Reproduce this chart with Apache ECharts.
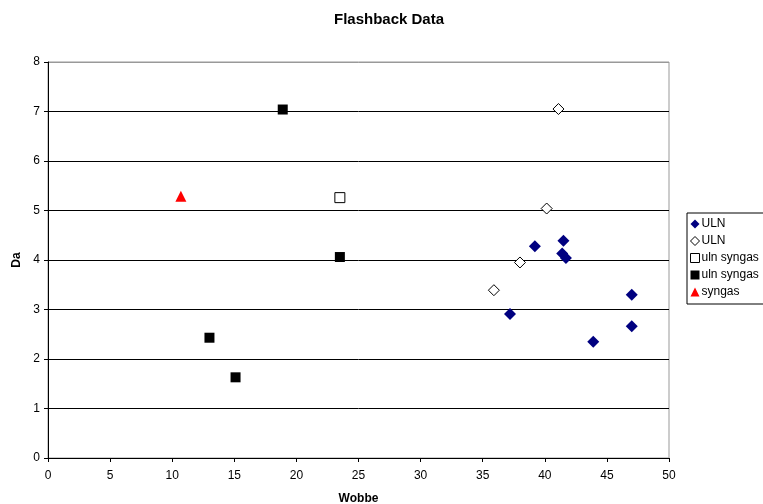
<!DOCTYPE html>
<html>
<head>
<meta charset="utf-8">
<script src="https://cdn.jsdelivr.net/npm/echarts@6/dist/echarts.min.js"></script>
<style>
html,body{margin:0;padding:0;background:#fff;}
#flash{width:763px;height:504px;}
</style>
</head>
<body>
<div id="flash"></div>
<script>
// values: [Wobbe, Da]
var ulnFilled = [[37.2,2.91],[39.2,4.28],[41.5,4.39],[41.4,4.13],[41.7,4.04],[43.9,2.35],[47.0,3.30],[47.0,2.66]];
var ulnOpen = [[41.1,7.05],[40.15,5.04],[38.0,3.95],[35.9,3.39]];
var synOpen = [[23.5,5.26]];
var synFilled = [[18.9,7.04],[23.5,4.06],[13.0,2.43],[15.1,1.63]];
var syngas = [[10.7,5.29]];
// legend names (trailing space keeps the duplicates apart)
var names = ['ULN','ULN ','uln syngas','uln syngas '];

var chart = echarts.init(document.getElementById('flash'));
var font = 'Liberation Sans, Arial, sans-serif';
var option = {
    animation: false,
    title: {
        text: 'Flashback Data',
        left: 384, top: 7, textAlign: 'center',
        textStyle: {fontFamily: font, fontSize: 15, fontWeight: 'bold', color: '#000'}
    },
    legend: {
        orient: 'vertical',
        left: 687, top: 213,
        padding: [5, 20, 6, 3],
        itemGap: 5,
        itemWidth: 9, itemHeight: 9,
        borderColor: '#000', borderWidth: 1,
        itemStyle: {borderWidth: 1},
        textStyle: {fontFamily: font, fontSize: 12, color: '#000', padding: [0,0,0,-3]},
        data: [names[0], names[1], names[2], names[3], 'syngas']
    },
    grid: {
        left: 48, right: 94, top: 62, bottom: 46,
        outerBoundsMode: 'none', containLabel: false,
        show: true, borderColor: '#999', borderWidth: 1
    },
    xAxis: {
        type: 'value', min: 0, max: 50, interval: 5,
        name: 'Wobbe', nameLocation: 'middle', nameGap: 35,
        nameTextStyle: {fontFamily: font, fontSize: 12, fontWeight: 'bold', color: '#000'},
        axisLine: {lineStyle: {color: '#000'}},
        axisTick: {length: 4, lineStyle: {color: '#000'}},
        axisLabel: {fontFamily: font, fontSize: 12, color: '#000', margin: 12},
        splitLine: {show: false}
    },
    yAxis: {
        type: 'value', min: 0, max: 8, interval: 1,
        name: 'Da', nameLocation: 'middle', nameGap: 25,
        nameTextStyle: {fontFamily: font, fontSize: 12, fontWeight: 'bold', color: '#000'},
        axisLine: {show: true, lineStyle: {color: '#000'}},
        axisTick: {show: true, length: 4, lineStyle: {color: '#000'}},
        axisLabel: {fontFamily: font, fontSize: 12, color: '#000', margin: 8},
        splitLine: {show: true, lineStyle: {color: ['#000','#000','#000','#000','#000','#000','#000','#000','#999'], width: 1}}
    },
    series: [{
        name: names[0], type: 'scatter', symbol: 'diamond', symbolSize: 12,
        itemStyle: {color: '#000080', opacity: 1},
        data: ulnFilled
    }, {
        name: names[1], type: 'scatter', symbol: 'diamond', symbolSize: 11,
        itemStyle: {color: '#fff', borderColor: '#000', borderWidth: 1, opacity: 1},
        data: ulnOpen
    }, {
        name: names[2], type: 'scatter', symbol: 'rect', symbolSize: 10,
        itemStyle: {color: '#fff', borderColor: '#000', borderWidth: 1, opacity: 1},
        data: synOpen
    }, {
        name: names[3], type: 'scatter', symbol: 'rect', symbolSize: 10,
        itemStyle: {color: '#000', opacity: 1},
        data: synFilled
    }, {
        name: 'syngas', type: 'scatter', symbol: 'triangle', symbolSize: 11,
        itemStyle: {color: '#ff0000', opacity: 1},
        data: syngas
    }]
};
chart.setOption(option);
</script>
</body>
</html>
